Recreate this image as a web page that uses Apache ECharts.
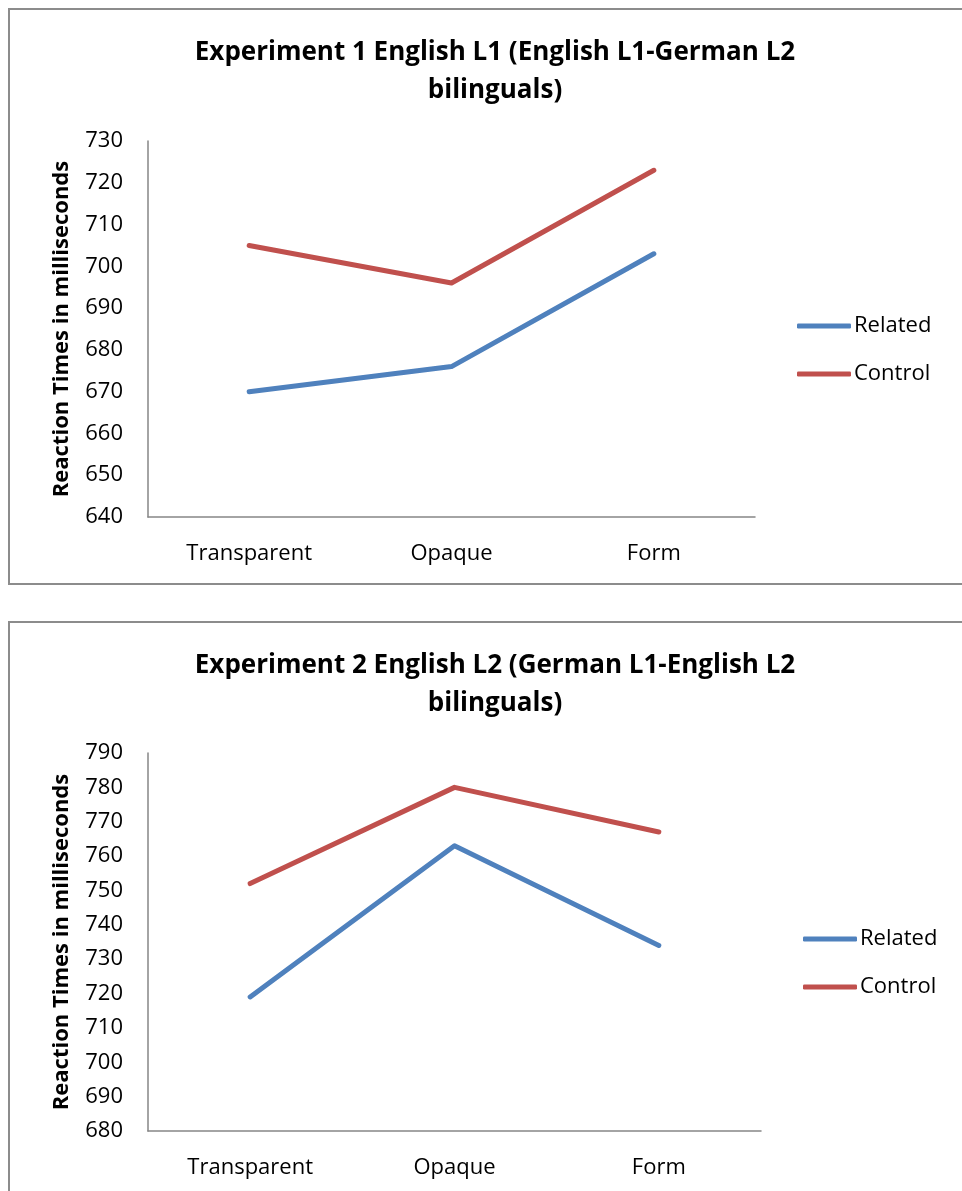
<!DOCTYPE html>
<html>
<head>
<meta charset="utf-8">
<script src="https://cdn.jsdelivr.net/npm/echarts@6/dist/echarts.min.js"></script>
<style>
  html, body { margin: 0; padding: 0; background: #fff; }
  #chart { width: 962px; height: 1191px; }
</style>
</head>
<body>
<div id="chart"></div>
<script>
// Conditions along the x axis
const categories = ['Transparent', 'Opaque', 'Form'];

// Experiment 1: English L1 (English L1-German L2 bilinguals), mean RTs in ms
const exp1Related = [670, 676, 703];
const exp1Control = [705, 696, 723];

// Experiment 2: English L2 (German L1-English L2 bilinguals), mean RTs in ms
const exp2Related = [719, 763, 734];
const exp2Control = [752, 780, 767];

const exp1Title = 'Experiment 1 English L1 (English L1-German L2\nbilinguals)';
const exp2Title = 'Experiment 2 English L2 (German L1-English L2\nbilinguals)';
const yAxisName = 'Reaction Times in milliseconds';

const BLUE = '#4F81BD';
const RED = '#C0504D';
const AXIS_GRAY = '#868686';
const FONT = '"Open Sans", "Liberation Sans", sans-serif';

function yAxisFor(gridIndex, min, max) {
  return {
    type: 'value', gridIndex, min, max, interval: 10,
    name: yAxisName, nameLocation: 'middle', nameGap: 75,
    nameTextStyle: { fontFamily: FONT, fontWeight: 'bold', fontSize: 22, color: '#000' },
    axisLine: { show: true, lineStyle: { color: AXIS_GRAY, width: 1.5 } },
    axisTick: { show: false },
    splitLine: { show: false },
    axisLabel: { margin: 25, fontFamily: FONT, fontSize: 22, color: '#000' }
  };
}

function xAxisFor(gridIndex) {
  return {
    type: 'category', gridIndex, data: categories, boundaryGap: true,
    axisLine: { lineStyle: { color: AXIS_GRAY, width: 1.5 } },
    axisTick: { show: false },
    axisLabel: { margin: 26, fontFamily: FONT, fontSize: 22, color: '#000' }
  };
}

function lineSeries(name, data, color, idx) {
  return {
    name, type: 'line', data, xAxisIndex: idx, yAxisIndex: idx,
    symbol: 'none', color,
    lineStyle: { color, width: 5, cap: 'round', join: 'round' },
    emphasis: { disabled: true }
  };
}

function legendFor(left, top) {
  return {
    left, top, orient: 'vertical', icon: 'roundRect', padding: 0,
    itemWidth: 54, itemHeight: 5, itemGap: 26,
    data: ['Related', 'Control'],
    textStyle: { fontFamily: FONT, fontSize: 22, color: '#000', lineHeight: 22, padding: [0, 0, 0, -2] }
  };
}

const chart = echarts.init(document.getElementById('chart'), null, { renderer: 'canvas' });

chart.setOption({
  animation: false,
  backgroundColor: '#fff',
  graphic: [
    { type: 'rect', shape: { x: 9, y: 9, width: 980, height: 575 },
      style: { fill: 'none', stroke: '#8c8c8c', lineWidth: 2 }, silent: true },
    { type: 'rect', shape: { x: 9, y: 622, width: 980, height: 600 },
      style: { fill: 'none', stroke: '#8c8c8c', lineWidth: 2 }, silent: true }
  ],
  title: [
    { text: exp1Title, left: 490, top: 29, textAlign: 'center',
      textStyle: { fontFamily: FONT, fontWeight: 'bold', fontSize: 26, lineHeight: 38, color: '#000' } },
    { text: exp2Title, left: 490, top: 642, textAlign: 'center',
      textStyle: { fontFamily: FONT, fontWeight: 'bold', fontSize: 26, lineHeight: 38, color: '#000' } }
  ],
  legend: [legendFor(797, 315), legendFor(803, 928)],
  grid: [
    { left: 148, top: 141, width: 607, height: 376 },
    { left: 148, top: 753, width: 613, height: 378 }
  ],
  xAxis: [xAxisFor(0), xAxisFor(1)],
  yAxis: [yAxisFor(0, 640, 730), yAxisFor(1, 680, 790)],
  series: [
    lineSeries('Related', exp1Related, BLUE, 0),
    lineSeries('Control', exp1Control, RED, 0),
    lineSeries('Related', exp2Related, BLUE, 1),
    lineSeries('Control', exp2Control, RED, 1)
  ]
});
</script>
</body>
</html>
